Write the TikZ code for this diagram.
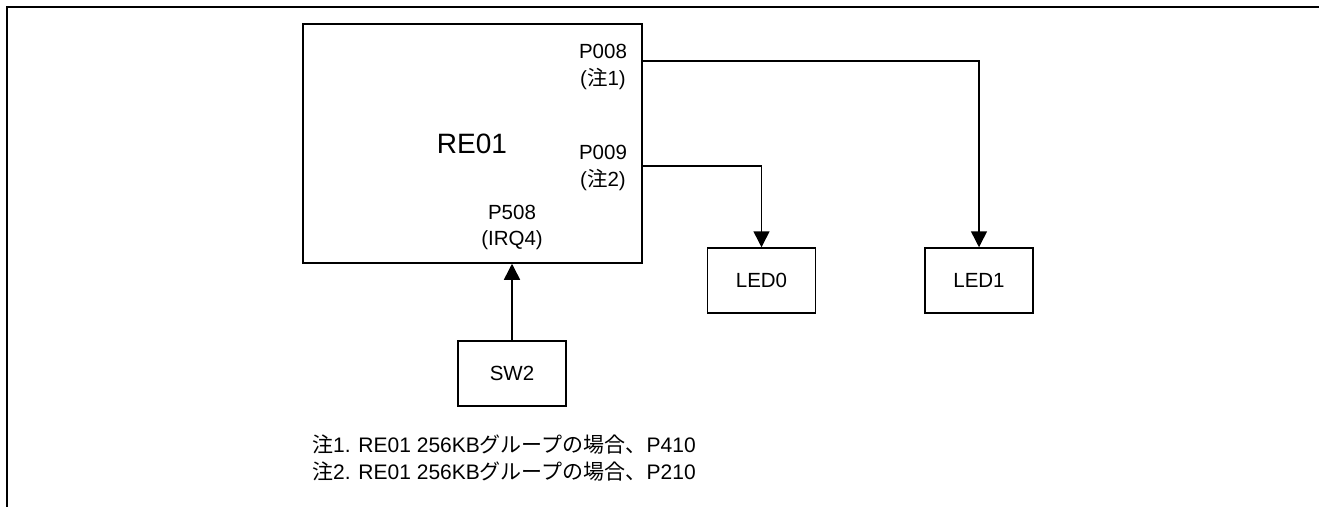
\documentclass[tikz,border=0pt]{standalone}
\usepackage{fontspec}
\setmainfont{Liberation Sans}
\newfontfamily\cjk{Noto Sans CJK JP}
\usetikzlibrary{arrows.meta}
\begin{document}
\begin{tikzpicture}[x=1pt,y=-1pt,
  box/.style={draw,line width=1.5pt,inner sep=0pt,font=\fontsize{20.5}{24}\selectfont},
  lbl/.style={anchor=base,inner sep=0pt,font=\fontsize{20.5}{24}\selectfont},
  note/.style={anchor=base west,inner sep=0pt,font=\fontsize{21}{25}\selectfont},
  wire/.style={line width=1.5pt,-{Triangle[width=16pt,length=16pt]}}]
\useasboundingbox (0,0) rectangle (1319,507);
\draw[line width=2.5pt] (1319,7) -- (7,7) -- (7,507);
% boxes
\node[box,minimum width=339pt,minimum height=239pt] (re) at (472.5,143.5) {};
\node[box,minimum width=108pt,minimum height=65pt] (led0) at (761.5,280.5) {LED0};
\node[box,minimum width=108pt,minimum height=65pt] (led1) at (979,280.5) {LED1};
\node[box,minimum width=108pt,minimum height=65pt] (sw2) at (512,373.5) {SW2};
% labels
\node[lbl,font=\fontsize{28}{32}\selectfont] (reT) at (472,153) {RE01};
\node[lbl] (p008) at (603,58) {P008};
\node[lbl] (n1) at (603,85) {({\cjk 注}1)};
\node[lbl] (p009) at (603,159) {P009};
\node[lbl] (n2) at (603,186) {({\cjk 注}2)};
\node[lbl] (p508) at (512,219) {P508};
\node[lbl] (irq) at (512,245) {(IRQ4)};
% wires
\coordinate (o008) at (642,61);
\coordinate (o009) at (642,166);
\draw[wire] (o008) -| (led1.north);
\draw[wire] (o009) -| (led0.north);
\draw[wire] (sw2.north) -- (sw2.north |- re.south);
% notes
\node[note] (f1) at (312,452) {{\cjk 注}1. RE01 256KB{\cjk グループの場合、}P410};
\node[note] (f2) at (312,479) {{\cjk 注}2. RE01 256KB{\cjk グループの場合、}P210};
\end{tikzpicture}
\end{document}
